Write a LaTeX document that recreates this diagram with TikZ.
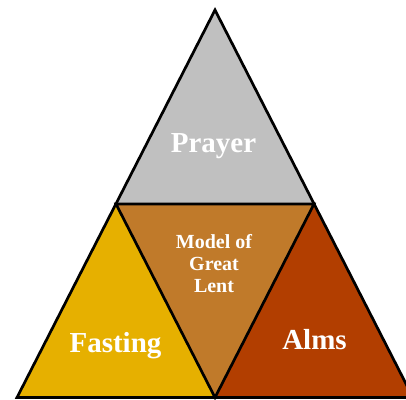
\documentclass[tikz,border=0pt]{standalone}
\usepackage{fontspec}
\setmainfont{Liberation Serif}
\definecolor{prayergray}{RGB}{192,192,192}
\definecolor{fastgold}{RGB}{230,176,0}
\definecolor{lentbrown}{RGB}{192,122,42}
\definecolor{almsrust}{RGB}{178,62,0}
\begin{document}
\begin{tikzpicture}[x=1pt,y=1pt,
  tri/.style={draw=black,line width=2.7pt,line join=miter},
  bigtxt/.style={text=white,font=\bfseries\fontsize{29}{32}\selectfont,inner sep=0pt},
  smalltxt/.style={text=white,font=\bfseries\fontsize{20}{22}\selectfont,align=center,inner sep=0pt}]
\useasboundingbox (0,0) rectangle (406,399);
\coordinate (A) at (215,389);
\coordinate (L) at (116,195);
\coordinate (R) at (314,195);
\coordinate (M) at (215,1.5);
\coordinate (BL) at (17,1.5);
\coordinate (BR) at (413,1.5);
\fill[prayergray] (A) -- (L) -- (R) -- cycle;
\fill[lentbrown] (L) -- (R) -- (M) -- cycle;
\fill[fastgold] (L) -- (BL) -- (M) -- cycle;
\fill[almsrust] (R) -- (M) -- (BR) -- cycle;
\draw[tri] (A) -- (BL) -- (BR) -- cycle;
\draw[tri] (L) -- (R) -- (M) -- cycle;
\node[bigtxt,anchor=base] (prayer) at (213.5,246) {Prayer};
\node[bigtxt,anchor=base] (fasting) at (115.5,47) {Fasting};
\node[bigtxt,anchor=base] (alms) at (314.5,50) {Alms};
\node[smalltxt,anchor=base] (model) at (214,107) {Model of\\Great\\Lent};
\end{tikzpicture}
\end{document}
